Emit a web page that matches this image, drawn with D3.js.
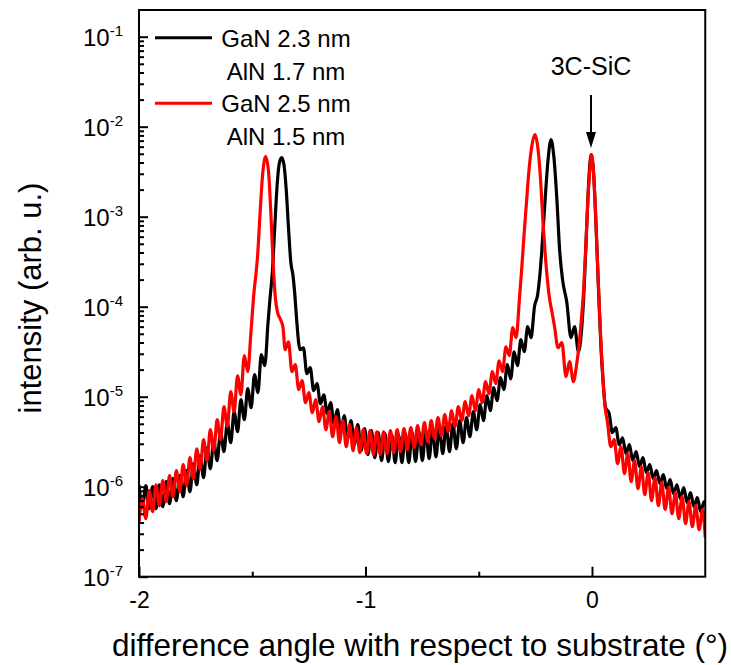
<!DOCTYPE html>
<html lang="en">
<head>
<meta charset="UTF-8">
<title>XRD</title>
<script src="https://cdn.jsdelivr.net/npm/d3@7"></script>
<style>
    body{ margin:0; background:#fff; }
    svg text{ font-family:"Liberation Sans", Arial, sans-serif; fill:#000; }
    .axis path{ display:none; }
    .axis line{ stroke:#000; stroke-width:2; }
</style>
</head>
<body>
<div id="chart"></div>
<script>
// legend labels and colours
var seriesNames = [["GaN 2.3 nm","AlN 1.7 nm"],["GaN 2.5 nm","AlN 1.5 nm"]];
var seriesColors = ["#000000","#ff0000"];
var xTicks = [-2,-1,0];
var xMinorTicks = [-1.5,-0.5];
var yTickExp = [-7,-6,-5,-4,-3,-2,-1];
var peakLabel = "3C-SiC";
var peakAngle = 0;

// [angle (deg), intensity], extrema of the fringes
var gan23 = [
[-2.000,1.05e-6],[-1.985,5.84e-7],[-1.970,1.03e-6],[-1.955,5.70e-7],[-1.940,1.00e-6],[-1.925,5.70e-7],[-1.910,1.05e-6],[-1.895,6.00e-7],
[-1.880,1.14e-6],[-1.865,6.47e-7],[-1.850,1.23e-6],[-1.835,6.99e-7],[-1.820,1.33e-6],[-1.805,7.74e-7],[-1.790,1.51e-6],[-1.775,8.80e-7],
[-1.760,1.80e-6],[-1.745,1.05e-6],[-1.730,2.21e-6],[-1.715,1.26e-6],[-1.700,2.71e-6],[-1.685,1.58e-6],[-1.670,3.25e-6],[-1.655,1.95e-6],
[-1.640,4.08e-6],[-1.625,2.45e-6],[-1.610,5.14e-6],[-1.595,3.08e-6],[-1.580,6.81e-6],[-1.565,4.08e-6],[-1.550,9.26e-6],[-1.535,5.55e-6],
[-1.520,1.23e-5],[-1.505,7.55e-6],[-1.490,1.76e-5],[-1.475,1.11e-5],[-1.460,2.93e-5],[-1.445,2.21e-5],[-1.430,6.81e-5],
[-1.422,1.20e-4],[-1.412,2.27e-4],[-1.400,8.15e-4],[-1.390,2.27e-3],[-1.380,3.98e-3],[-1.370,4.53e-3],[-1.360,3.78e-3],[-1.350,2.00e-3],
[-1.340,7.55e-4],[-1.330,3.16e-4],[-1.320,2.21e-4],[-1.312,1.36e-4],[-1.304,7.17e-5],
[-1.289,3.33e-5],[-1.274,3.50e-5],[-1.259,1.80e-5],[-1.244,2.10e-5],[-1.229,1.17e-5],[-1.214,1.40e-5],[-1.199,8.36e-6],[-1.184,1.05e-5],
[-1.169,6.47e-6],[-1.154,8.58e-6],[-1.139,5.01e-6],[-1.124,7.17e-6],[-1.109,4.08e-6],[-1.094,6.15e-6],[-1.079,3.42e-6],[-1.064,5.41e-6],
[-1.049,2.93e-6],[-1.034,4.89e-6],[-1.019,2.51e-6],[-1.004,4.41e-6],[-0.989,2.27e-6],[-0.974,4.19e-6],[-0.959,2.10e-6],[-0.944,3.98e-6],
[-0.929,1.95e-6],[-0.914,3.88e-6],[-0.899,1.90e-6],[-0.884,3.78e-6],[-0.869,1.85e-6],[-0.854,3.78e-6],[-0.839,1.85e-6],[-0.824,3.88e-6],
[-0.809,1.85e-6],[-0.794,3.98e-6],[-0.779,1.90e-6],[-0.764,4.08e-6],[-0.749,1.95e-6],[-0.734,4.19e-6],[-0.719,2.05e-6],[-0.704,4.30e-6],
[-0.689,2.15e-6],[-0.674,4.53e-6],[-0.659,2.33e-6],[-0.644,4.76e-6],[-0.629,2.45e-6],[-0.614,5.01e-6],[-0.599,2.64e-6],[-0.584,5.41e-6],
[-0.569,3.08e-6],[-0.554,5.84e-6],[-0.539,3.59e-6],[-0.524,6.81e-6],[-0.509,4.30e-6],[-0.494,8.15e-6],[-0.479,5.41e-6],[-0.464,1.03e-5],
[-0.449,6.99e-6],[-0.434,1.26e-5],[-0.419,9.03e-6],[-0.404,1.63e-5],[-0.389,1.20e-5],[-0.374,2.27e-5],[-0.359,1.58e-5],[-0.344,3.16e-5],
[-0.329,2.21e-5],[-0.314,4.30e-5],[-0.299,3.16e-5],[-0.284,6.00e-5],[-0.269,4.53e-5],[-0.254,1.00e-4],
[-0.240,1.36e-4],[-0.230,2.27e-4],[-0.222,4.08e-4],[-0.207,1.55e-3],[-0.194,4.30e-3],[-0.181,7.17e-3],[-0.168,4.53e-3],[-0.155,1.55e-3],
[-0.143,4.30e-4],[-0.130,2.00e-4],[-0.111,1.11e-4],[-0.093,4.53e-5],[-0.077,6.00e-5],[-0.060,3.16e-5],[-0.046,5.55e-5],
[-0.035,1.55e-4],[-0.024,7.17e-4],[-0.014,2.58e-3],[-0.004,4.89e-3],[0.006,3.33e-3],[0.016,1.05e-3],[0.027,2.00e-4],[0.038,4.30e-5],
[0.050,1.36e-5],[0.060,7.55e-6],[0.075,6.64e-6],[0.090,3.98e-6],[0.105,4.53e-6],[0.120,2.93e-6],[0.135,3.50e-6],[0.150,2.33e-6],
[0.165,2.93e-6],[0.180,1.95e-6],[0.195,2.45e-6],[0.210,1.67e-6],[0.225,2.10e-6],[0.240,1.43e-6],[0.255,1.76e-6],[0.270,1.23e-6],
[0.285,1.51e-6],[0.300,1.08e-6],[0.315,1.36e-6],[0.330,9.50e-7],[0.345,1.20e-6],[0.360,8.36e-7],[0.375,1.05e-6],[0.390,7.36e-7],
[0.405,9.75e-7],[0.420,6.64e-7],[0.435,8.58e-7],[0.450,5.99e-7],[0.465,7.55e-7],[0.480,5.28e-7],[0.495,6.81e-7],[0.500,6.15e-7]
];

var gan25 = [
[-2.000,3.98e-7],[-1.985,7.36e-7],[-1.970,4.41e-7],[-1.955,9.03e-7],[-1.940,5.28e-7],[-1.925,1.05e-6],[-1.910,6.15e-7],[-1.895,1.17e-6],
[-1.880,6.81e-7],[-1.865,1.33e-6],[-1.850,7.74e-7],[-1.835,1.51e-6],[-1.820,8.80e-7],[-1.805,1.76e-6],[-1.790,1.03e-6],[-1.775,2.10e-6],
[-1.760,1.23e-6],[-1.745,2.64e-6],[-1.730,1.55e-6],[-1.715,3.33e-6],[-1.700,1.95e-6],[-1.685,4.30e-6],[-1.670,2.51e-6],[-1.655,5.55e-6],
[-1.640,3.33e-6],[-1.625,7.74e-6],[-1.610,4.64e-6],[-1.595,1.14e-5],[-1.580,6.81e-6],[-1.565,1.71e-5],[-1.550,1.05e-5],[-1.535,2.86e-5],
[-1.520,1.90e-5],[-1.505,5.55e-5],
[-1.492,1.47e-4],[-1.485,2.15e-4],[-1.477,3.50e-4],[-1.465,1.14e-3],[-1.455,2.78e-3],[-1.441,4.64e-3],[-1.428,3.16e-3],[-1.418,1.11e-3],
[-1.408,3.16e-4],[-1.398,1.26e-4],[-1.388,8.58e-5],[-1.375,7.17e-5],[-1.364,5.84e-5],
[-1.355,3.33e-5],[-1.340,4.08e-5],[-1.325,1.90e-5],[-1.310,2.27e-5],[-1.295,1.20e-5],[-1.280,1.51e-5],[-1.265,8.58e-6],[-1.250,1.11e-5],
[-1.235,6.64e-6],[-1.220,9.26e-6],[-1.205,5.28e-6],[-1.190,7.74e-6],[-1.175,4.30e-6],[-1.160,6.81e-6],[-1.145,3.59e-6],[-1.130,6.00e-6],
[-1.115,3.08e-6],[-1.100,5.41e-6],[-1.085,2.78e-6],[-1.070,4.89e-6],[-1.055,2.51e-6],[-1.040,4.53e-6],[-1.025,2.39e-6],[-1.010,4.30e-6],
[-0.995,2.33e-6],[-0.980,4.19e-6],[-0.965,2.27e-6],[-0.950,4.08e-6],[-0.935,2.27e-6],[-0.920,4.08e-6],[-0.905,2.33e-6],[-0.890,4.19e-6],
[-0.875,2.39e-6],[-0.860,4.30e-6],[-0.845,2.45e-6],[-0.830,4.41e-6],[-0.815,2.58e-6],[-0.800,4.53e-6],[-0.785,2.71e-6],[-0.770,4.76e-6],
[-0.755,2.93e-6],[-0.740,5.14e-6],[-0.725,3.16e-6],[-0.710,5.41e-6],[-0.695,3.42e-6],[-0.680,5.84e-6],[-0.665,3.69e-6],[-0.650,6.31e-6],
[-0.635,4.08e-6],[-0.620,6.99e-6],[-0.605,4.64e-6],[-0.590,7.74e-6],[-0.575,5.41e-6],[-0.560,8.80e-6],[-0.545,6.15e-6],[-0.530,1.03e-5],
[-0.515,6.99e-6],[-0.500,1.20e-5],[-0.485,8.58e-6],[-0.470,1.47e-5],[-0.455,1.08e-5],[-0.440,1.90e-5],[-0.425,1.40e-5],[-0.410,2.51e-5],
[-0.395,1.90e-5],[-0.380,3.59e-5],[-0.365,2.86e-5],[-0.350,5.84e-5],[-0.335,4.53e-5],[-0.320,1.26e-4],
[-0.310,2.71e-4],[-0.300,6.31e-4],[-0.290,1.36e-3],[-0.280,2.93e-3],[-0.268,5.55e-3],[-0.252,8.15e-3],[-0.238,5.55e-3],[-0.227,2.58e-3],
[-0.217,9.26e-4],[-0.207,3.98e-4],[-0.197,2.00e-4],[-0.188,1.26e-4],[-0.177,8.80e-5],[-0.166,6.15e-5],[-0.150,3.50e-5],[-0.133,3.98e-5],
[-0.115,1.67e-5],[-0.099,2.45e-5],[-0.082,1.47e-5],[-0.068,2.27e-5],[-0.057,3.78e-5],[-0.047,7.17e-5],[-0.037,1.55e-4],[-0.027,4.89e-4],
[-0.018,1.55e-3],[-0.009,3.50e-3],[-0.003,4.89e-3],[0.005,3.50e-3],[0.014,1.36e-3],[0.023,3.78e-4],[0.032,1.05e-4],[0.041,3.33e-5],
[0.050,1.36e-5],[0.058,7.55e-6],[0.068,5.28e-6],[0.083,2.78e-6],[0.098,3.33e-6],[0.113,1.80e-6],[0.128,2.78e-6],[0.143,1.40e-6],
[0.158,2.33e-6],[0.173,1.14e-6],[0.188,1.95e-6],[0.203,9.50e-7],[0.218,1.67e-6],[0.233,8.15e-7],[0.248,1.43e-6],[0.263,6.99e-7],
[0.278,1.26e-6],[0.293,6.15e-7],[0.308,1.11e-6],[0.323,5.55e-7],[0.338,9.75e-7],[0.353,5.01e-7],[0.368,8.58e-7],[0.383,4.41e-7],
[0.398,7.74e-7],[0.413,3.88e-7],[0.428,6.81e-7],[0.443,3.59e-7],[0.458,6.15e-7],[0.473,3.33e-7],[0.488,5.55e-7],[0.500,2.71e-7]
];

var width = 731, height = 665;
var plot = {left:139, right:705.25, top:10, bottom:576.7};

var svg = d3.select("#chart").append("svg")
        .attr("width",width)
        .attr("height",height);

var xScale = d3.scaleLinear()
        .domain([-2,0.5])
        .range([plot.left,plot.right]);
var yScale = d3.scaleLog()
        .domain([1e-7,0.198])
        .range([plot.bottom,plot.top]);

//clip for the curves
svg.append("clipPath").attr("id","clip")
        .append("rect")
        .attr("x",plot.left).attr("y",plot.top)
        .attr("width",plot.right-plot.left).attr("height",plot.bottom-plot.top);

var line = d3.line()
        .x(function(d){return xScale(d[0]);})
        .y(function(d){return yScale(d[1]);})
        .curve(d3.curveMonotoneX);

[gan23,gan25].forEach(function(s,i){
    svg.append("path")
            .attr("d",line(s))
            .attr("clip-path","url(#clip)")
            .attr("fill","none")
            .attr("stroke",seriesColors[i])
            .attr("stroke-width",3.2)
            .attr("stroke-linejoin","round");
});

//x axis, ticks pointing inwards
var xAxis = d3.axisBottom(xScale)
        .tickValues(xTicks)
        .tickSize(-10)
        .tickPadding(15)
        .tickFormat(function(d){return String(d);});
var gx = svg.append("g")
        .attr("class","axis")
        .attr("transform","translate(0,"+plot.bottom+")")
        .call(xAxis);
gx.selectAll("text").attr("font-size",23).attr("font-family",null);

svg.append("g")
        .attr("class","axis")
        .attr("transform","translate(0,"+plot.bottom+")")
        .call(d3.axisBottom(xScale).tickValues(xMinorTicks).tickSize(-5).tickFormat(""));

//y axis
var yMinor = [];
yTickExp.forEach(function(e){
    for(var m=2;m<=9;m++){
        var v = m*Math.pow(10,e);
        if(v < yScale.domain()[1]) yMinor.push(v);
    }
});
svg.append("g")
        .attr("class","axis")
        .attr("transform","translate("+plot.left+",0)")
        .call(d3.axisLeft(yScale).tickValues(yTickExp.map(function(e){return Math.pow(10,e);})).tickSize(-9).tickFormat(""));
svg.append("g")
        .attr("class","axis")
        .attr("transform","translate("+plot.left+",0)")
        .call(d3.axisLeft(yScale).tickValues(yMinor).tickSize(-5).tickFormat(""));

var yLabels = svg.selectAll(".ylab")
        .data(yTickExp)
        .enter()
        .append("text")
        .attr("class","ylab")
        .attr("x",123)
        .attr("y",function(e){return yScale(Math.pow(10,e)) + 9;})
        .attr("text-anchor","end");
yLabels.append("tspan").attr("font-size",24).text("10");
yLabels.append("tspan").attr("font-size",15).attr("dy",-10).text(function(e){return String(e);});

//frame
svg.append("rect")
        .attr("x",plot.left).attr("y",plot.top)
        .attr("width",plot.right-plot.left).attr("height",plot.bottom-plot.top)
        .attr("fill","none")
        .attr("stroke","#000")
        .attr("stroke-width",2);

//axis titles
svg.append("text")
        .attr("x",420).attr("y",656)
        .attr("text-anchor","middle")
        .attr("font-size",31.5)
        .text("difference angle with respect to substrate (\u00b0)");
svg.append("text")
        .attr("transform","translate(41,298) rotate(-90)")
        .attr("text-anchor","middle")
        .attr("font-size",31)
        .text("intensity (arb. u.)");

//legend
var legend = svg.selectAll(".legend")
        .data(seriesNames)
        .enter()
        .append("g")
        .attr("class","legend")
        .attr("transform",function(d,i){return "translate(0,"+(37.7 + i*65.6)+")";});
legend.append("line")
        .attr("x1",155).attr("x2",212)
        .attr("stroke",function(d,i){return seriesColors[i];})
        .attr("stroke-width",3);
legend.append("text")
        .attr("x",286).attr("y",9)
        .attr("text-anchor","middle")
        .attr("font-size",24)
        .text(function(d){return d[0];});
legend.append("text")
        .attr("x",286).attr("y",42)
        .attr("text-anchor","middle")
        .attr("font-size",24)
        .text(function(d){return d[1];});

//substrate peak annotation
var px = xScale(peakAngle) - 1;
svg.append("text")
        .attr("x",px).attr("y",75)
        .attr("text-anchor","middle")
        .attr("font-size",25)
        .text(peakLabel);
svg.append("line")
        .attr("x1",px).attr("x2",px)
        .attr("y1",95).attr("y2",136)
        .attr("stroke","#000").attr("stroke-width",2);
svg.append("path")
        .attr("d","M"+(px-5)+",132L"+(px+5)+",132L"+px+",148Z")
        .attr("fill","#000");
</script>
</body>
</html>
